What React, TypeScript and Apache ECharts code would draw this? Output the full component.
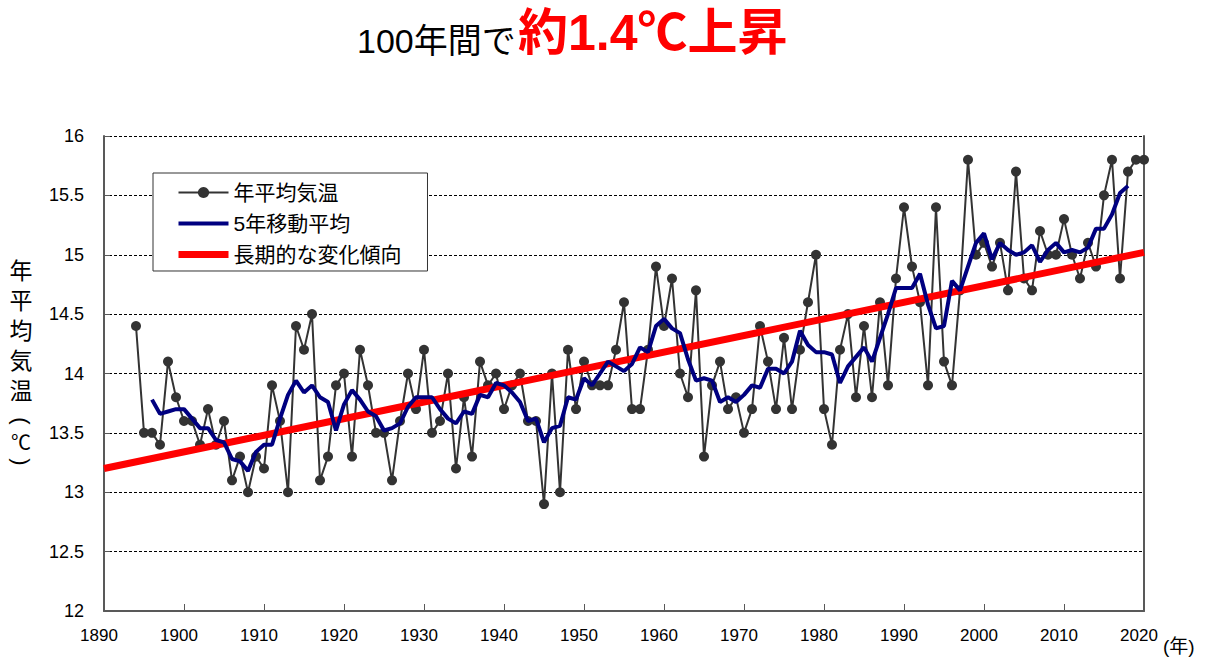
import React, { useEffect, useRef } from "react";
import * as echarts from "echarts";

// ---- data ----
const annualStartYear = 1894;
const annualTemps = [
  14.4, 13.5, 13.5, 13.4, 14.1, 13.8, 13.6, 13.6, 13.4, 13.7, // 1894-1903
  13.4, 13.6, 13.1, 13.3, 13.0, 13.3, 13.2, 13.9, 13.6, 13.0, // 1904-1913
  14.4, 14.2, 14.5, 13.1, 13.3, 13.9, 14.0, 13.3, 14.2, 13.9, // 1914-1923
  13.5, 13.5, 13.1, 13.6, 14.0, 13.7, 14.2, 13.5, 13.6, 14.0, // 1924-1933
  13.2, 13.8, 13.3, 14.1, 13.9, 14.0, 13.7, 13.9, 14.0, 13.6, // 1934-1943
  13.6, 12.9, 14.0, 13.0, 14.2, 13.7, 14.1, 13.9, 13.9, 13.9, // 1944-1953
  14.2, 14.6, 13.7, 13.7, 14.2, 14.9, 14.4, 14.8, 14.0, 13.8, // 1954-1963
  14.7, 13.3, 13.9, 14.1, 13.7, 13.8, 13.5, 13.7, 14.4, 14.1, // 1964-1973
  13.7, 14.3, 13.7, 14.2, 14.6, 15.0, 13.7, 13.4, 14.2, 14.5, // 1974-1983
  13.8, 14.4, 13.8, 14.6, 13.9, 14.8, 15.4, 14.9, 14.6, 13.9, // 1984-1993
  15.4, 14.1, 13.9, 14.7, 15.8, 15.0, 15.1, 14.9, 15.1, 14.7, // 1994-2003
  15.7, 14.8, 14.7, 15.2, 15.0, 15.0, 15.3, 15.0, 14.8, 15.1, // 2004-2013
  14.9, 15.5, 15.8, 14.8, 15.7, 15.8, 15.8, // 2014-2020
];

const movingStartYear = 1896;
const movingAvg = [
  13.78, 13.66, 13.68, 13.7, 13.7, 13.62, 13.54, 13.54, 13.44, 13.42, // 1896-1905
  13.28, 13.26, 13.18, 13.34, 13.4, 13.4, 13.62, 13.82, 13.94, 13.84, // 1906-1915
  13.9, 13.8, 13.76, 13.52, 13.74, 13.86, 13.78, 13.68, 13.64, 13.52, // 1916-1925
  13.54, 13.58, 13.72, 13.8, 13.8, 13.8, 13.7, 13.62, 13.58, 13.68, // 1926-1935
  13.66, 13.82, 13.8, 13.92, 13.9, 13.84, 13.76, 13.6, 13.62, 13.42, // 1936-1945
  13.54, 13.56, 13.8, 13.78, 13.96, 13.9, 14.0, 14.1, 14.06, 14.02, // 1946-1955
  14.08, 14.22, 14.18, 14.4, 14.46, 14.38, 14.34, 14.12, 13.94, 13.96, // 1956-1965
  13.94, 13.76, 13.8, 13.76, 13.82, 13.9, 13.88, 14.04, 14.04, 14.0, // 1966-1975
  14.1, 14.36, 14.24, 14.18, 14.18, 14.16, 13.92, 14.06, 14.14, 14.22, // 1976-1985
  14.1, 14.3, 14.5, 14.72, 14.72, 14.72, 14.84, 14.58, 14.38, 14.4, // 1986-1995
  14.78, 14.7, 14.9, 15.1, 15.18, 14.96, 15.1, 15.04, 15.0, 15.02, // 1996-2005
  15.08, 14.94, 15.04, 15.1, 15.02, 15.04, 15.02, 15.06, 15.22, 15.22, // 2006-2015
  15.34, 15.52, 15.58, // 2016-2018
];

const trendYears = [1890, 2020];
const trendValues = [13.2, 15.02];

const seriesNames = ["年平均気温", "5年移動平均", "長期的な変化傾向"];
const titleBlack = "100年間で";
const titleRed = "約1.4℃上昇";
const yAxisTitleMain = ["年", "平", "均", "気", "温"];
const yAxisTitleOpen = "(";
const yAxisTitleUnit = "℃";
const yAxisTitleClose = ")";
const xAxisUnit = "(年)";

const FONT = "'Liberation Sans', 'Noto Sans CJK JP', sans-serif";
const CJK = "'Noto Sans CJK JP', sans-serif";

export default function App() {
  const ref = useRef<HTMLDivElement>(null);

  useEffect(() => {
    if (!ref.current) return;
    const chart = echarts.init(ref.current, undefined, { renderer: "svg" });

    const annualData = annualTemps.map((v, i) => [annualStartYear + i, v]);
    const maData = movingAvg.map((v, i) => [movingStartYear + i, v]);
    const trendData = trendYears.map((y, i) => [y, trendValues[i]]);

    const yTitleChars = yAxisTitleMain.map((ch, i) => ({
      type: "text",
      x: 21,
      y: 271 + i * 30,
      style: {
        text: ch,
        font: `23px ${FONT}`,
        align: "center",
        verticalAlign: "middle",
        fill: "#000",
      },
    }));

    chart.setOption({
      animation: false,
      backgroundColor: "#ffffff",
      textStyle: { fontFamily: FONT },
      grid: { left: 104, right: 70, top: 136, bottom: 58, containLabel: false },
      legend: {
        data: [
          { name: seriesNames[0] },
          { name: seriesNames[1], itemStyle: { opacity: 0 }, lineStyle: { width: 4, color: "#000080" } },
          { name: seriesNames[2], itemStyle: { opacity: 0 }, lineStyle: { width: 7, color: "#ff0000" } },
        ],
        orient: "vertical",
        left: 153,
        top: 173,
        itemWidth: 50,
        itemHeight: 14,
        itemGap: 10,
        padding: [9, 26, 6, 22],
        backgroundColor: "#ffffff",
        borderColor: "#333333",
        borderWidth: 1,
        z: 10,
        textStyle: { fontSize: 21, color: "#000", fontFamily: FONT },
      },
      xAxis: {
        type: "value",
        min: 1890,
        max: 2020,
        interval: 10,
        axisLine: { show: true, lineStyle: { color: "#595959", width: 2 } },
        axisTick: { show: true, inside: true, length: 7, lineStyle: { color: "#595959" } },
        axisLabel: {
          fontSize: 17,
          color: "#000",
          margin: 16,
          padding: [0, 10, 0, 0],
          fontFamily: FONT,
          formatter: (v: number) => String(v),
        },
        splitLine: { show: false },
      },
      yAxis: [
        {
          type: "value",
          min: 12,
          max: 16,
          interval: 0.5,
          axisLine: { show: true, lineStyle: { color: "#595959", width: 2 } },
          axisTick: { show: true, inside: true, length: 6, lineStyle: { color: "#595959" } },
          axisLabel: { fontSize: 18, color: "#000", margin: 20, fontFamily: FONT },
          splitLine: { show: true, lineStyle: { color: "#000", width: 1, type: [3, 2] } },
        },
        {
          type: "value",
          min: 12,
          max: 16,
          interval: 0.5,
          position: "right",
          axisLine: { show: true, lineStyle: { color: "#595959", width: 2 } },
          axisTick: { show: false },
          axisLabel: { show: false },
          splitLine: { show: false },
        },
      ],
      series: [
        {
          name: seriesNames[0],
          type: "line",
          data: annualData,
          symbol: "circle",
          symbolSize: 10,
          itemStyle: { color: "#333333" },
          lineStyle: { color: "#333333", width: 2 },
          z: 2,
        },
        {
          name: seriesNames[1],
          type: "line",
          data: maData,
          symbol: "none",
          lineStyle: { color: "#000080", width: 4 },
          itemStyle: { color: "#000080" },
          z: 4,
        },
        {
          name: seriesNames[2],
          type: "line",
          data: trendData,
          symbol: "none",
          lineStyle: { color: "#ff0000", width: 7 },
          itemStyle: { color: "#ff0000" },
          z: 3,
        },
      ],
      graphic: [
        {
          type: "text",
          left: 357,
          top: 24,
          style: { text: titleBlack, font: `34px ${FONT}`, fill: "#000" },
        },
        {
          type: "text",
          left: 518,
          top: 8,
          style: { text: titleRed, font: `bold 50px ${FONT}`, fill: "#ff0000" },
        },
        ...yTitleChars,
        {
          type: "text",
          x: 21,
          y: 421,
          rotation: -Math.PI / 2,
          style: {
            text: yAxisTitleOpen,
            font: `22px ${FONT}`,
            align: "center",
            verticalAlign: "middle",
            fill: "#000",
          },
        },
        {
          type: "text",
          x: 21,
          y: 441,
          style: {
            text: yAxisTitleUnit,
            font: `20px ${CJK}`,
            align: "center",
            verticalAlign: "middle",
            fill: "#000",
          },
        },
        {
          type: "text",
          x: 21,
          y: 462,
          rotation: -Math.PI / 2,
          style: {
            text: yAxisTitleClose,
            font: `22px ${FONT}`,
            align: "center",
            verticalAlign: "middle",
            fill: "#000",
          },
        },
        {
          type: "text",
          x: 1163,
          y: 637,
          style: { text: xAxisUnit, font: `19px ${FONT}`, fill: "#000", verticalAlign: "top" },
        },
      ],
    });

    return () => chart.dispose();
  }, []);

  return (
    <div
      ref={ref}
      style={{ position: "absolute", left: 0, top: 0, width: 1214, height: 669, background: "#fff" }}
    />
  );
}
